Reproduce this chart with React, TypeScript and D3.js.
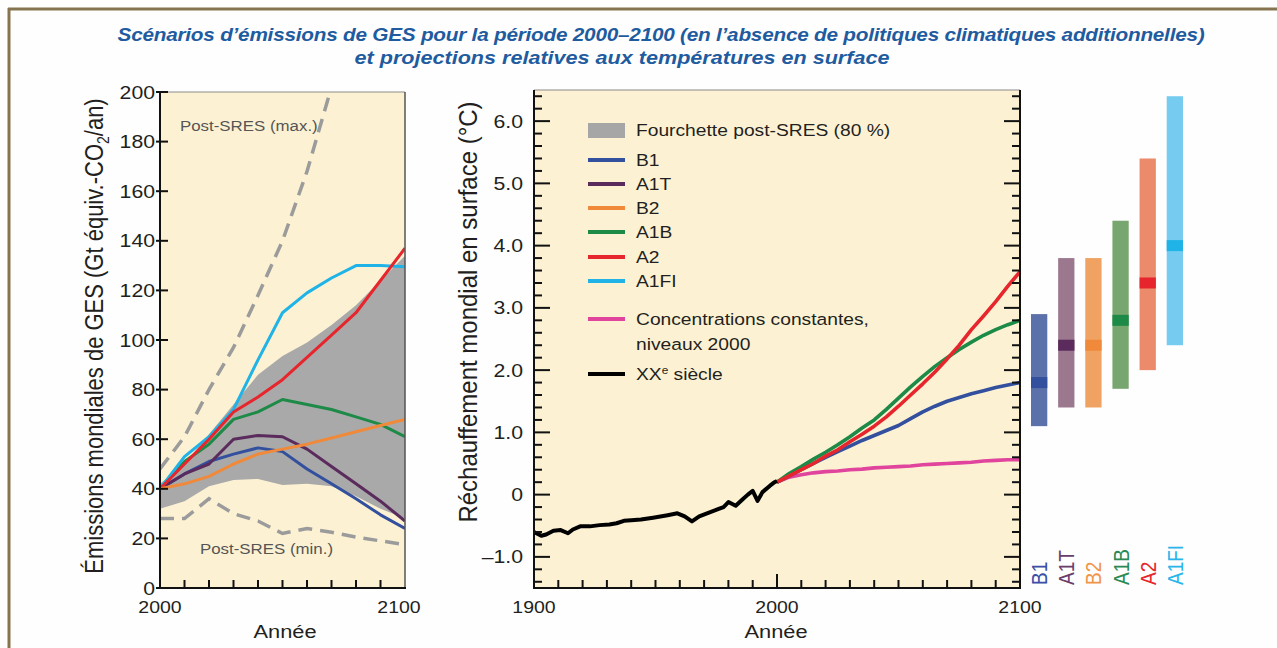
import * as d3 from 'd3';
import React, { useEffect, useRef } from 'react';

const W = 1277;
const H = 648;
// le scan d'origine est étiré horizontalement, on étire le texte pareil
const SX = 1.18;
const FONT = '"Liberation Sans", Arial, sans-serif';

// panneau gauche : émissions (Gt équiv.-CO2/an)
const emYears = [2000, 2010, 2020, 2030, 2040, 2050, 2060, 2070, 2080, 2090, 2100];
const emB1 = [40, 46, 51, 54, 56.5, 55, 48, 42, 36, 29.5, 24];
const emA1T = [40, 46, 50, 60, 61.5, 61, 56, 49, 42, 35, 27];
const emB2 = [40, 42, 45, 50, 54, 56, 58, 60.5, 63, 65.5, 68];
const emA1B = [40, 51, 58, 68, 71, 76, 74, 72, 69, 66, 61];
const emA2 = [40, 50, 60, 71, 77, 84, 93, 102, 111, 124, 137];
const emA1FI = [40, 53, 61, 72, 92, 111, 119, 125, 130, 130, 129.5];
const bandLow = [32, 35, 41, 43.5, 44, 41.5, 42, 41, 37, 32, 28];
const bandHigh = [42, 50, 62, 74, 86, 93.5, 99, 106, 114, 124, 134];
const maxYears = [2000, 2010, 2020, 2030, 2040, 2050, 2060, 2070];
const postSresMax = [48, 61, 80, 97, 118, 140, 168, 202];
const postSresMin = [28, 28, 36, 30, 27, 22, 24, 22.5, 20.5, 19, 17.5];

// panneau central : réchauffement (°C)
const histYears = [1900, 1903, 1905, 1908, 1911, 1914, 1916, 1919, 1923, 1927, 1931, 1934, 1937, 1940, 1944,
  1949, 1955, 1959, 1962, 1965, 1968, 1972, 1976, 1978, 1980, 1983, 1986, 1988, 1990, 1991, 1992, 1994, 1997, 1999, 2000];
const histTemp = [-0.6, -0.66, -0.64, -0.58, -0.57, -0.62, -0.56, -0.51, -0.51, -0.49, -0.48, -0.46, -0.42, -0.41, -0.4,
  -0.37, -0.33, -0.3, -0.35, -0.43, -0.35, -0.29, -0.23, -0.2, -0.12, -0.18, -0.07, 0.0, 0.06, -0.02, -0.1, 0.04, 0.14, 0.2, 0.22];
const projYears = [2000, 2005, 2010, 2015, 2020, 2025, 2030, 2035, 2040, 2045, 2050,
  2055, 2060, 2065, 2070, 2075, 2080, 2085, 2090, 2095, 2100];
const tA2 = [0.2, 0.3, 0.4, 0.5, 0.62, 0.72, 0.85, 0.97, 1.1, 1.25, 1.42, 1.6, 1.78, 1.97, 2.18, 2.4, 2.65, 2.87, 3.1, 3.35, 3.58];
const tA1B = [0.2, 0.34, 0.45, 0.57, 0.68, 0.8, 0.93, 1.07, 1.2, 1.37, 1.55, 1.73, 1.9, 2.06, 2.2, 2.33, 2.45, 2.56, 2.65, 2.73, 2.8];
const tB1 = [0.2, 0.3, 0.4, 0.5, 0.6, 0.69, 0.78, 0.87, 0.95, 1.03, 1.11, 1.22, 1.33, 1.42, 1.5, 1.56, 1.62, 1.67, 1.72, 1.76, 1.8];
const tCommit = [0.2, 0.28, 0.32, 0.35, 0.37, 0.38, 0.4, 0.41, 0.43, 0.44, 0.45, 0.46, 0.48, 0.49, 0.5, 0.51, 0.52, 0.54, 0.55, 0.56, 0.56];

// barres à droite : fourchettes probables en 2090-2099
const scenarios = ['B1', 'A1T', 'B2', 'A1B', 'A2', 'A1FI'];
const rangeLow = [1.1, 1.4, 1.4, 1.7, 2.0, 2.4];
const rangeHigh = [2.9, 3.8, 3.8, 4.4, 5.4, 6.4];
const bestEst = [1.8, 2.4, 2.4, 2.8, 3.4, 4.0];

const lineColor = { B1: '#33509f', A1T: '#5a2b5c', B2: '#f08a3a', A1B: '#1d8a47', A2: '#e6262c', A1FI: '#1fb3e8' };
const barColor = { B1: '#5c70a9', A1T: '#9c788f', B2: '#f0a262', A1B: '#78a66f', A2: '#ec8b6b', A1FI: '#76ccf0' };
const labelColor = { B1: '#3a4fa5', A1T: '#6b3d6b', B2: '#f0964a', A1B: '#2a8a52', A2: '#e6262c', A1FI: '#2ab6ea' };
const PINK = '#e0449c';
const CREAM = '#fcf2d3';

function txt(g, x, y, s, o: any = {}) {
    let tr = `translate(${x},${y}) scale(${o.sx || SX},1)`;
    if (o.rotate) tr += ` rotate(${o.rotate})`;
    return g.append('text')
        .attr('transform', tr)
        .attr('font-family', FONT)
        .attr('font-size', o.size || 17)
        .attr('font-weight', o.weight || 'normal')
        .attr('font-style', o.style || 'normal')
        .attr('letter-spacing', o.spacing || 0)
        .attr('text-anchor', o.anchor || 'start')
        .attr('fill', o.fill || '#231f20')
        .text(s);
}

export default function App() {
    const ref = useRef<SVGSVGElement>(null);

    useEffect(() => {
        const svg = d3.select(ref.current);
        svg.selectAll('*').remove();

        svg.append('rect').attr('width', W).attr('height', H).attr('fill', '#fefefe');
        // cadre brun
        svg.append('line').attr('x1', 8).attr('x2', W).attr('y1', 9).attr('y2', 9)
            .attr('stroke', '#85744f').attr('stroke-width', 3);
        svg.append('line').attr('x1', 9).attr('x2', 9).attr('y1', 8).attr('y2', H)
            .attr('stroke', '#85744f').attr('stroke-width', 3);

        // titre
        const tOpt = { size: 18.3, weight: 'bold', style: 'italic', fill: '#1f5b9f', anchor: 'middle' };
        txt(svg, 661, 41, 'Scénarios d’émissions de GES pour la période 2000–2100 (en l’absence de politiques climatiques additionnelles)',
            { ...tOpt, size: 17.6, spacing: -0.2 });
        txt(svg, 622, 64, 'et projections relatives aux températures en surface', tOpt);

        // ---------- panneau gauche ----------
        const xE = d3.scaleLinear().domain([2000, 2100]).range([160, 405]);
        const yE = d3.scaleLinear().domain([0, 200]).range([588, 92]);
        const gL = svg.append('g');
        gL.append('rect').attr('x', 160).attr('y', 92).attr('width', 245).attr('height', 496).attr('fill', CREAM);
        svg.append('clipPath').attr('id', 'clipL').append('rect')
            .attr('x', 160).attr('y', 92).attr('width', 245).attr('height', 496);
        const pL = gL.append('g').attr('clip-path', 'url(#clipL)');

        const band = d3.area<number>().x((d, i) => xE(emYears[i])).y0((d, i) => yE(bandLow[i])).y1(d => yE(d));
        pL.append('path').attr('d', band(bandHigh)).attr('fill', '#a9a9a9');

        const dash = (ys, vs) => d3.line<number>().x((d, i) => xE(ys[i])).y(d => yE(d))(vs);
        pL.append('path').attr('d', dash(maxYears, postSresMax)).attr('fill', 'none')
            .attr('stroke', '#9b9b9b').attr('stroke-width', 3.5).attr('stroke-dasharray', '14,8');
        pL.append('path').attr('d', dash(emYears, postSresMin)).attr('fill', 'none')
            .attr('stroke', '#9b9b9b').attr('stroke-width', 3.5).attr('stroke-dasharray', '14,8');

        const emLine = d3.line<number>().x((d, i) => xE(emYears[i])).y(d => yE(d));
        const emSeries: [string, number[]][] = [['B1', emB1], ['A1T', emA1T], ['A1B', emA1B], ['A1FI', emA1FI], ['A2', emA2], ['B2', emB2]];
        emSeries.forEach(([k, v]) => {
            pL.append('path').attr('d', emLine(v)).attr('fill', 'none')
                .attr('stroke', lineColor[k]).attr('stroke-width', 3).attr('stroke-linejoin', 'round');
        });

        txt(gL, 180, 131, 'Post-SRES (max.)', { size: 14.3, fill: '#555' });
        txt(gL, 200, 554, 'Post-SRES (min.)', { size: 14.3, fill: '#555' });

        // bordures et graduations
        gL.append('line').attr('x1', 160).attr('x2', 405).attr('y1', 92).attr('y2', 92).attr('stroke', '#8a8a8a').attr('stroke-width', 1.2);
        gL.append('line').attr('x1', 405).attr('x2', 405).attr('y1', 92).attr('y2', 588).attr('stroke', '#555').attr('stroke-width', 1.5);
        gL.append('line').attr('x1', 160).attr('x2', 160).attr('y1', 92).attr('y2', 589).attr('stroke', '#111').attr('stroke-width', 2);
        gL.append('line').attr('x1', 159).attr('x2', 406).attr('y1', 588).attr('y2', 588).attr('stroke', '#111').attr('stroke-width', 2);
        yE.ticks(10).forEach(v => {
            gL.append('line').attr('x1', 156).attr('x2', 168).attr('y1', yE(v)).attr('y2', yE(v)).attr('stroke', '#111').attr('stroke-width', 2);
            txt(gL, 155, yE(v) + 6.5, String(v), { size: 18, anchor: 'end' });
        });
        d3.range(2010, 2100, 10).forEach(v => {
            gL.append('line').attr('x1', xE(v)).attr('x2', xE(v)).attr('y1', 588).attr('y2', 580).attr('stroke', '#111').attr('stroke-width', 2);
        });
        [2000, 2100].forEach(v => txt(gL, xE(v) - (v === 2100 ? 6 : 0), 613, String(v), { size: 16.5, anchor: 'middle' }));
        txt(gL, 285, 638, 'Année', { size: 18.5, anchor: 'middle' });
        const tl = txt(gL, 103, 336, 'Émissions mondiales de GES (Gt équiv.-CO', { size: 22, anchor: 'middle', rotate: -90 });
        tl.append('tspan').attr('dy', 5).attr('font-size', 14).text('2');
        tl.append('tspan').attr('dy', -5).text('/an)');

        // ---------- panneau central ----------
        const xT = d3.scaleLinear().domain([1900, 2100]).range([534, 1020]);
        const yT = d3.scaleLinear().domain([-1.5, 6.5]).range([588, 90]);
        const gM = svg.append('g');
        gM.append('rect').attr('x', 534).attr('y', 90).attr('width', 486).attr('height', 498).attr('fill', CREAM);

        const tLine = (ys) => d3.line<number>().x((d, i) => xT(ys[i])).y(d => yT(d));
        const proj: [string, number[]][] = [[PINK, tCommit], [lineColor.B1, tB1], [lineColor.A1B, tA1B], [lineColor.A2, tA2]];
        proj.forEach(([c, v]) => {
            gM.append('path').attr('d', tLine(projYears)(v)).attr('fill', 'none')
                .attr('stroke', c).attr('stroke-width', 3.6).attr('stroke-linejoin', 'round');
        });
        gM.append('path').attr('d', tLine(histYears)(histTemp)).attr('fill', 'none')
            .attr('stroke', '#000').attr('stroke-width', 4).attr('stroke-linejoin', 'round');

        gM.append('line').attr('x1', 534).attr('x2', 1020).attr('y1', 90).attr('y2', 90).attr('stroke', '#8a8a8a').attr('stroke-width', 1.2);
        gM.append('line').attr('x1', 534).attr('x2', 534).attr('y1', 90).attr('y2', 589).attr('stroke', '#111').attr('stroke-width', 2);
        gM.append('line').attr('x1', 1020).attr('x2', 1020).attr('y1', 90).attr('y2', 589).attr('stroke', '#111').attr('stroke-width', 2);
        gM.append('line').attr('x1', 533).attr('x2', 1021).attr('y1', 588).attr('y2', 588).attr('stroke', '#111').attr('stroke-width', 2);

        yT.ticks(40).filter(v => v > -1.5 && v < 6.5).forEach(v => {
            const major = Math.abs(v - Math.round(v)) < 1e-6;
            const len = major ? 16 : 8;
            gM.append('line').attr('x1', 534).attr('x2', 534 + len).attr('y1', yT(v)).attr('y2', yT(v)).attr('stroke', '#111').attr('stroke-width', 2);
            gM.append('line').attr('x1', 1020).attr('x2', 1020 - len).attr('y1', yT(v)).attr('y2', yT(v)).attr('stroke', '#111').attr('stroke-width', 2);
            if (major) {
                const s = v === 0 ? '0' : v < 0 ? '–' + Math.abs(v).toFixed(1) : v.toFixed(1);
                txt(gM, 523, yT(v) + 6.5, s, { size: 18, anchor: 'end' });
            }
        });
        d3.range(1910, 2100, 10).forEach(v => {
            const len = v === 2000 ? 14 : 8;
            gM.append('line').attr('x1', xT(v)).attr('x2', xT(v)).attr('y1', 588).attr('y2', 588 - len).attr('stroke', '#111').attr('stroke-width', 2);
        });
        [1900, 2000, 2100].forEach(v => txt(gM, xT(v), 613, String(v), { size: 16.5, anchor: 'middle' }));
        txt(gM, 776, 638, 'Année', { size: 18.5, anchor: 'middle' });
        txt(gM, 477, 312, 'Réchauffement mondial en surface (°C)', { size: 24, anchor: 'middle', rotate: -90, sx: 1.05 });

        // légende
        const lg = gM.append('g');
        lg.append('rect').attr('x', 588).attr('y', 123).attr('width', 37).attr('height', 15).attr('fill', '#a6a6a6');
        txt(lg, 636, 136, 'Fourchette post-SRES (80 %)', { size: 16.3 });
        const legY = [160, 184, 208, 232, 257, 281];
        scenarios.forEach((s, i) => {
            lg.append('line').attr('x1', 588).attr('x2', 625).attr('y1', legY[i]).attr('y2', legY[i])
                .attr('stroke', lineColor[s]).attr('stroke-width', 4);
            txt(lg, 636, legY[i] + 6, s, { size: 16.3 });
        });
        lg.append('line').attr('x1', 588).attr('x2', 625).attr('y1', 319).attr('y2', 319).attr('stroke', PINK).attr('stroke-width', 4);
        txt(lg, 636, 325, 'Concentrations constantes,', { size: 16.3 });
        txt(lg, 636, 350, 'niveaux 2000', { size: 16.3 });
        lg.append('line').attr('x1', 588).attr('x2', 625).attr('y1', 374).attr('y2', 374).attr('stroke', '#000').attr('stroke-width', 4);
        const xx = txt(lg, 636, 380, 'XX', { size: 16.3 });
        xx.append('tspan').attr('dy', -6).attr('font-size', 10).text('e');
        xx.append('tspan').attr('dy', 6).text(' siècle');

        // ---------- barres de droite ----------
        const xB = d3.scaleBand().domain(scenarios).range([1031, 1183]).paddingInner(0.4).paddingOuter(0);
        const gB = svg.append('g');
        scenarios.forEach((s, i) => {
            gB.append('rect').attr('x', xB(s)).attr('width', xB.bandwidth())
                .attr('y', yT(rangeHigh[i])).attr('height', yT(rangeLow[i]) - yT(rangeHigh[i]))
                .attr('fill', barColor[s]);
            gB.append('rect').attr('x', xB(s)).attr('width', xB.bandwidth())
                .attr('y', yT(bestEst[i]) - 5.5).attr('height', 11)
                .attr('fill', lineColor[s]);
            const cx = xB(s) + xB.bandwidth() / 2;
            txt(gB, cx + 8, 585, s, { size: 19, rotate: -90, fill: labelColor[s] });
        });
    }, []);

    return (
        <svg ref={ref} width={W} height={H} style={{ position: 'absolute', left: 0, top: 0, display: 'block' }}></svg>
    );
}
